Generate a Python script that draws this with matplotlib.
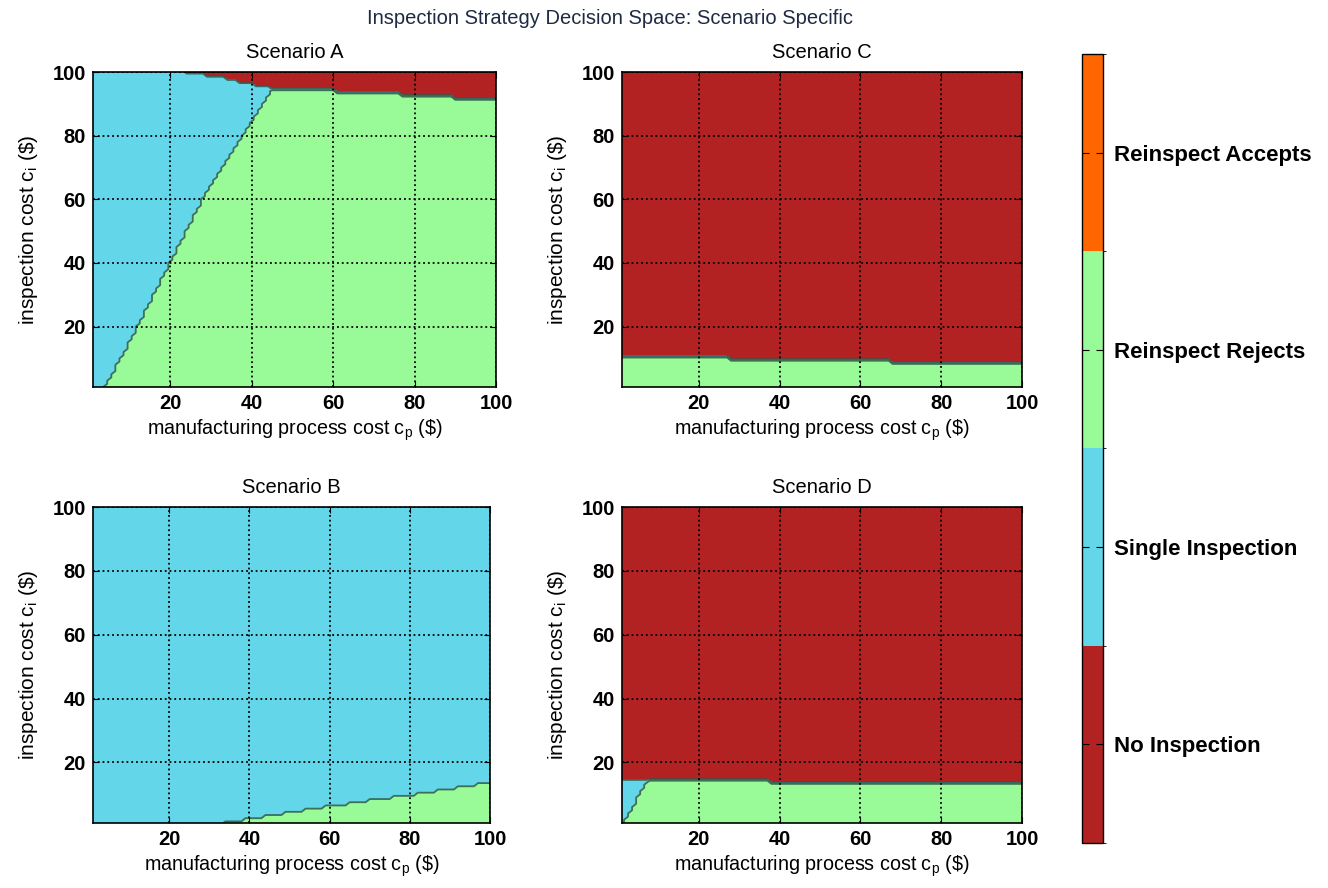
import numpy as np
import matplotlib.pyplot as plt
from matplotlib.colors import ListedColormap, BoundaryNorm
from matplotlib.cm import ScalarMappable

plt.rcParams['font.family'] = ['Liberation Sans', 'DejaVu Sans']

# strategy classes (colour order = class code 1..4)
strategies = ['No Inspection', 'Single Inspection', 'Reinspect Rejects', 'Reinspect Accepts']
strategy_colors = ['#b22222', '#63d6e9', '#98fb98', '#ff6600']

# Scenario A: single/reinspect boundary (x as function of y) and no-inspection top edge
a_split_y = [1, 20, 40, 60, 80, 95]
a_split_x = [4, 12, 20, 28, 38, 45]
a_top_x = [1, 20, 23, 30, 40, 45, 58, 62, 75, 78, 88, 92, 100]
a_top_y = [101, 101, 100, 98.8, 96.2, 94.8, 94.6, 93.6, 93.4, 92.6, 92.4, 91.2, 91]

# Scenario B: reinspect-rejects region below this line
b_x = [1, 33, 40, 60, 80, 100]
b_y = [0, 0.8, 2.3, 6.3, 9.8, 13.8]

# Scenario C: reinspect-rejects region below this line
c_x = [1, 27, 28, 67, 68, 100]
c_y = [10.5, 10.5, 9.5, 9.5, 8.5, 8.5]

# Scenario D: reinspect region below line, single inspection in the corner
d_x = [1, 37, 39, 100]
d_y = [14.5, 14.5, 13.5, 13.5]
d_single_y = [1, 15]
d_single_x = [1.5, 7.5]

xs = np.arange(1, 101)
ys = np.arange(1, 101)
X, Y = np.meshgrid(xs, ys)


def scenario_a():
    z = np.full(X.shape, 3.0)
    split = np.interp(Y, a_split_y, a_split_x)
    z[X < split] = 2
    z[Y > np.interp(X, a_top_x, a_top_y)] = 1
    return z


def scenario_b():
    z = np.full(X.shape, 2.0)
    z[Y < np.interp(X, b_x, b_y)] = 3
    return z


def scenario_c():
    z = np.full(X.shape, 1.0)
    z[Y < np.interp(X, c_x, c_y)] = 3
    return z


def scenario_d():
    z = np.full(X.shape, 1.0)
    low = Y < np.interp(X, d_x, d_y)
    z[low] = 3
    z[low & (X < np.interp(Y, d_single_y, d_single_x))] = 2
    return z


cmap = ListedColormap(strategy_colors)
levels = [0.5, 1.5, 2.5, 3.5, 4.5]
norm = BoundaryNorm(levels, cmap.N)

W, H = 1328, 888
fig = plt.figure(figsize=(W / 100, H / 100), dpi=100)


def px_axes(x0, y0, x1, y1):
    return fig.add_axes([x0 / W, 1 - y1 / H, (x1 - x0) / W, (y1 - y0) / H])


panels = [
    ('Scenario A', scenario_a(), (93, 72, 496, 387)),
    ('Scenario C', scenario_c(), (622, 72, 1022, 387)),
    ('Scenario B', scenario_b(), (93, 507, 490, 823)),
    ('Scenario D', scenario_d(), (622, 507, 1022, 823)),
]

for title, z, box in panels:
    ax = px_axes(*box)
    ax.contourf(X, Y, z, levels=levels, cmap=cmap, norm=norm)
    ax.contour(X, Y, z, levels=[1.5, 2.5, 3.5], colors='#2f5848', linewidths=1.3, alpha=0.85)
    ax.set_xlim(1, 100)
    ax.set_ylim(1, 100)
    ax.set_xticks([20, 40, 60, 80, 100])
    ax.set_yticks([20, 40, 60, 80, 100])
    ax.grid(True, color='k', linestyle=':', linewidth=1.3)
    ax.set_axisbelow(False)
    ax.tick_params(direction='in', length=4, labelsize=14.5, top=True, right=True, pad=5)
    for lbl in ax.get_xticklabels() + ax.get_yticklabels():
        lbl.set_fontweight('bold')
    for s in ax.spines.values():
        s.set_linewidth(1.2)
    ax.set_title(title, fontsize=14.5, pad=10)
    ax.set_xlabel(r'manufacturing process cost c$_{\mathregular{p}}$ (\$)', fontsize=14.2, labelpad=3)
    ax.set_ylabel(r'inspection cost c$_{\mathregular{i}}$ (\$)', fontsize=15, labelpad=9)

fig.text(610 / W, 1 - 18 / H, 'Inspection Strategy Decision Space: Scenario Specific',
         ha='center', va='center', fontsize=14.5, color='#1e2a44')

cax = px_axes(1082, 54, 1103, 843)
cb = fig.colorbar(ScalarMappable(norm=norm, cmap=cmap), cax=cax)
cb.set_ticks([1, 2, 3, 4])
cb.set_ticklabels(strategies)
cb.outline.set_linewidth(1.0)
cax.tick_params(direction='in', length=5, left=True, right=True, labelsize=16, pad=8)
for lbl in cax.get_yticklabels():
    lbl.set_fontweight('bold')

fig.savefig('out.png', dpi=100)
